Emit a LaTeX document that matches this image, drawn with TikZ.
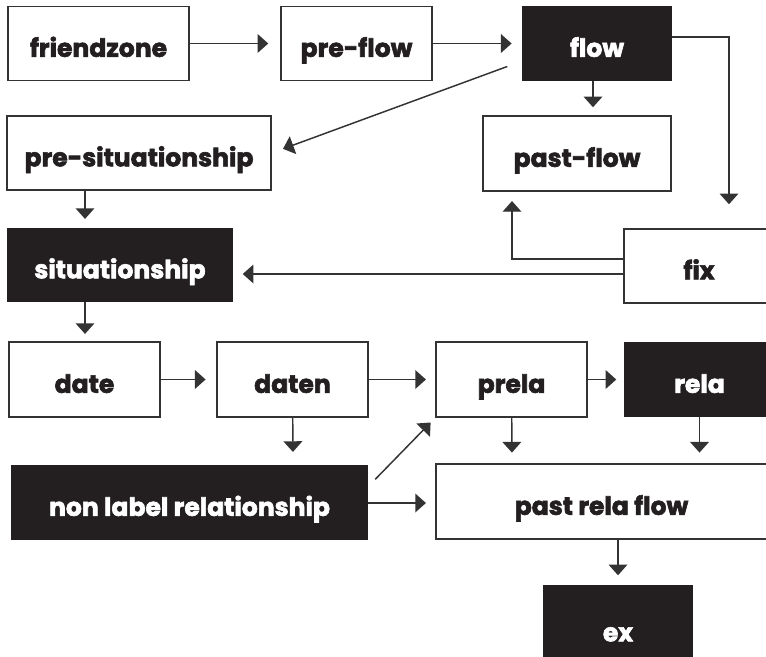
\documentclass[tikz,border=0pt]{standalone}
\usepackage{fontspec}
\setmainfont{Poppins}[BoldFeatures={FakeBold=2.4}]
\usetikzlibrary{arrows.meta,calc}
\definecolor{ink}{HTML}{231F20}
\definecolor{edge}{HTML}{333333}
\def\pu{0.75pt}
\begin{document}
\begin{tikzpicture}[x=0.75pt,y=-0.75pt,
  bx/.style 2 args={draw=edge,line width=1.1pt,fill=white,text=ink,inner sep=0pt,
    text height=20pt,text depth=0pt,
    minimum width=#1*\pu,minimum height=#2*\pu,font=\fontsize{18.8}{22}\selectfont\bfseries},
  dk/.style={fill=ink,draw=ink,text=white},
  arr/.style={draw=edge,line width=1.1pt,-{Triangle[length=8pt,width=14pt]}}]
\useasboundingbox (0,0) rectangle (766,656);
% nodes
\node[bx={181}{74}] (fz) at (98.5,43.5) {friendzone};
\node[bx={151}{74}] (pf) at (356.5,43.5) {pre-flow};
\node[bx={148}{73},dk] (fl) at (597,43.5) {flow};
\node[bx={264}{74}] (ps) at (139,153) {pre-situationship};
\node[bx={188}{75}] (pfl) at (577,153.5) {past-flow};
\node[bx={224}{72},dk] (sit) at (120,265) {situationship};
\node[bx={150}{74}] (fix) at (699,266) {fix};
\node[bx={151}{75}] (date) at (84.5,379.5) {date};
\node[bx={151}{75}] (daten) at (292.5,379.5) {daten};
\node[bx={151}{75}] (prela) at (511.5,379.5) {prela};
\node[bx={149}{73},dk] (rela) at (699.5,379.5) {rela};
\node[bx={355}{73},dk] (nl) at (189.5,502.5) {non label relationship};
\node[bx={331}{75}] (prf) at (601.5,501.5) {past rela flow};
\node[bx={148}{84},dk] (ex) at (618,628) {ex};
% connectors
\draw[arr,shorten >=9pt] (fz) -- (pf);
\draw[arr,shorten >=8pt] (pf) -- (fl);
\draw[arr,shorten <=12pt,shorten >=9pt] ($(fl.west)+(0,17.5)$) -- ($(ps.east)+(0,0)$);
\draw[arr,shorten >=6pt] ($(fl.south)+(-4,0)$) -- ($(pfl.north)+(16,0)$);
\draw[arr,shorten >=18pt] ($(fl.east)+(0,-6.5)$) -| ($(fix.north)+(30,0)$);
\draw[arr,shorten >=7pt] ($(fix.west)+(0,-7)$) -| ($(pfl.south)+(-65,0)$);
\draw[arr,shorten >=7.5pt] ($(fix.west)+(0,8)$) -- ($(sit.east)+(0,9)$);
\draw[arr,shorten >=7pt] ($(ps.south)+(-54,0)$) -- ($(sit.north)+(-35,0)$);
\draw[arr,shorten >=5.5pt] ($(sit.south)+(-35,0)$) -- ($(date.north)+(0.5,0)$);
\draw[arr,shorten >=8pt] (date) -- (daten);
\draw[arr,shorten >=7pt] (daten) -- (prela);
\draw[arr,shorten >=6pt] (prela) -- (rela);
\draw[arr,shorten >=10pt] (daten) -- ($(nl.north)+(103.5,0)$);
\draw[arr,shorten <=8pt,shorten >=5pt] ($(nl.east)+(0,-15.5)$) -- (prela.south west);
\draw[arr,shorten >=7pt] ($(nl.east)+(0,0.5)$) -- ($(prf.west)+(0,1.5)$);
\draw[arr,shorten >=8pt] (prela) -- ($(prf.north)+(-89.5,0)$);
\draw[arr,shorten >=8pt] (rela) -- ($(prf.north)+(98,0)$);
\draw[arr,shorten >=7.5pt] ($(prf.south)+(16.5,0)$) -- (ex);
\end{tikzpicture}
\end{document}
